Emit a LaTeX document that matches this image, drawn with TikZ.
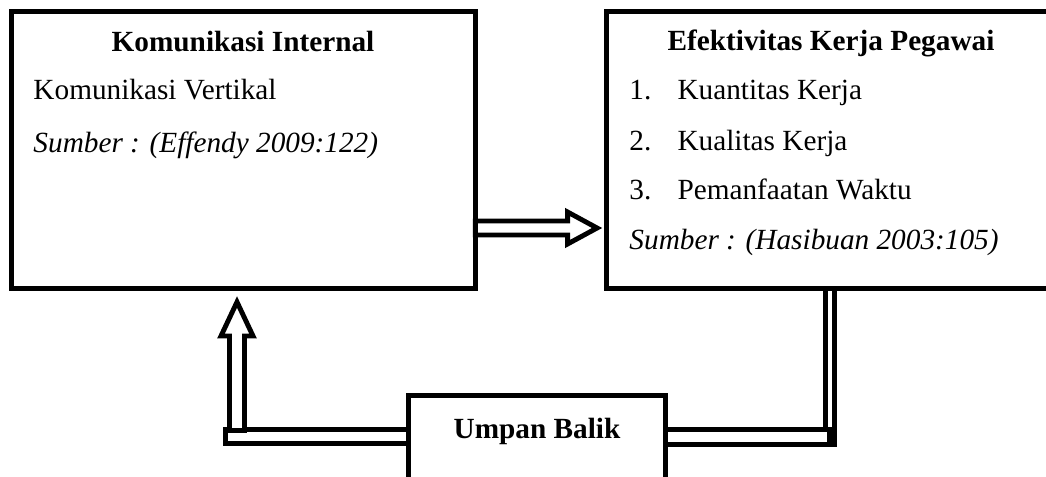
\documentclass[tikz,border=0pt]{standalone}
\usepackage{fontspec}
\setmainfont{Liberation Serif}
\usetikzlibrary{positioning,calc}
\tikzset{
  box/.style={draw, line width=2pt, inner sep=0pt},
  txt/.style={inner sep=0pt, font=\fontsize{12}{14}\selectfont},
  judul/.style={inner sep=0pt, font=\fontsize{12}{14}\selectfont\bfseries},
  sumber/.style={inner sep=0pt, font=\fontsize{12}{14}\selectfont\itshape},
  hollow/.style={draw, fill=white, line width=2pt, line join=miter}
}
\newcommand{\nomor}[1]{\makebox[19.7pt][l]{#1}}

\begin{document}
\begin{tikzpicture}[x=0.41pt, y=-0.41pt]
  \useasboundingbox (0,0) rectangle (1046,477);
  \clip (0,0) rectangle (1046,477);
  % boxes
  \node[box, minimum width=190.2pt, minimum height=113.6pt] (kom) at (243.5,150) {};
  \node[box, minimum width=184.5pt, minimum height=113.6pt] (efek) at (831.5,150) {};
  \node[box, minimum width=105.4pt, minimum height=65.6pt] (umpan) at (537,475.5) {};
  % texts
  \node[judul, anchor=base] (komjudul) at (243,52) {Komunikasi Internal};
  \node[txt, anchor=base west] (komvert) at (33,100) {Komunikasi Vertikal};
  \node[sumber, anchor=base west] (komsumber) at (33,152) {Sumber : (Effendy 2009:122)};
  \node[judul, anchor=base] (efekjudul) at (831,51) {Efektivitas Kerja Pegawai};
  \node[txt, anchor=base west] (item1) at (629,100) {\nomor{1.}Kuantitas Kerja};
  \node[txt, anchor=base west] (item2) at (629,150) {\nomor{2.}Kualitas Kerja};
  \node[txt, anchor=base west] (item3) at (629,200) {\nomor{3.}Pemanfaatan Waktu};
  \node[sumber, anchor=base west] (efeksumber) at (629,249) {Sumber : (Hasibuan 2003:105)};
  \node[judul, anchor=base] (umpanjudul) at (537,438) {Umpan Balik};
  % connectors
  \coordinate (mid) at (0,228);
  \coordinate (fbl) at (237,436.5);
  \coordinate (fbr) at (830,437);
  \draw[hollow] ($(kom.east |- mid)+(-2.5,-7)$) -- ($(efek.west |- mid)+(-36.5,-7)$)
    -- ($(efek.west |- mid)+(-36.5,-16)$) -- ($(efek.west |- mid)+(-7,0)$)
    -- ($(efek.west |- mid)+(-36.5,16)$) -- ($(efek.west |- mid)+(-36.5,7)$)
    -- ($(kom.east |- mid)+(-2.5,7)$) -- cycle;
  \draw[hollow] ($(efek.south -| fbr)+(-4.5,-2.5)$) rectangle ($(fbr)+(4.5,7.5)$);
  \draw[hollow] ($(umpan.east |- fbr)+(-2.5,-7.5)$) rectangle ($(fbr)+(-0.5,7.5)$);
  \draw[hollow] ($(fbl)+(-11.5,-7)$) rectangle ($(umpan.west |- fbl)+(2.5,7)$);
  \draw[hollow, shift={(kom.south -| fbl)}] (0,11) -- (16,45) -- (7.5,45) -- (7.5,139.5)
    -- (-7.5,139.5) -- (-7.5,45) -- (-16,45) -- cycle;
\end{tikzpicture}
\end{document}
